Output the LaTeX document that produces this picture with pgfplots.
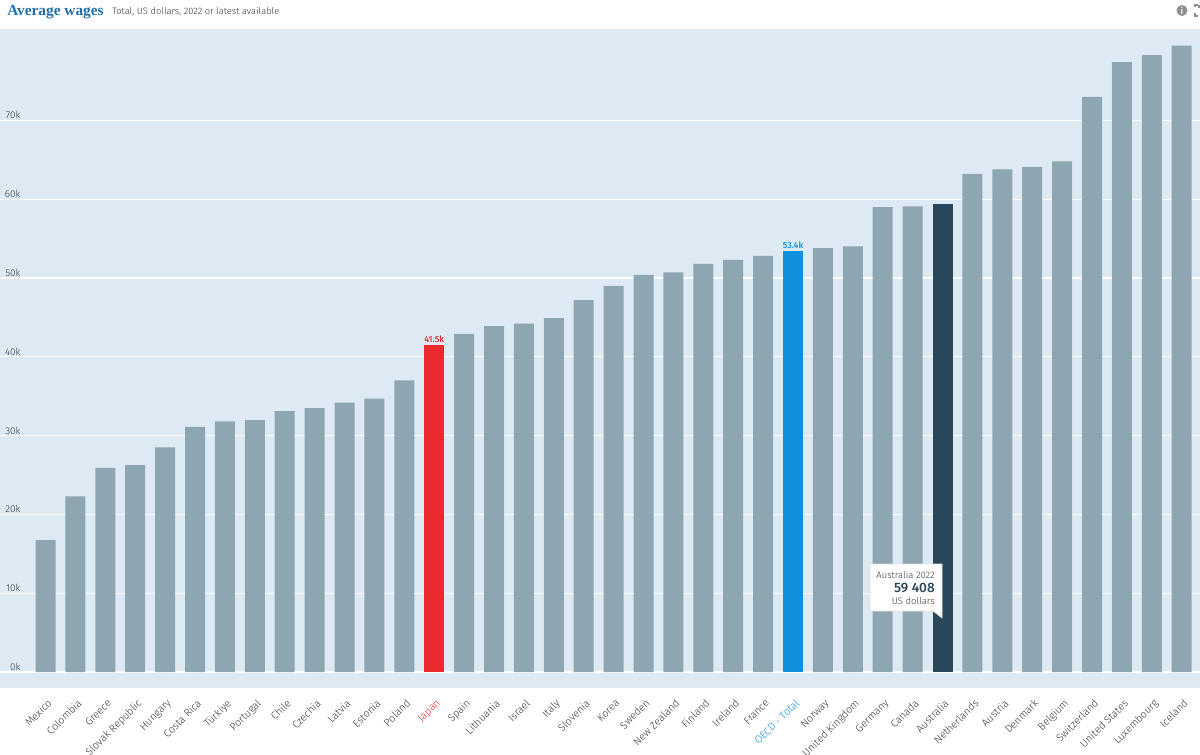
\documentclass[border=0pt]{standalone}
\usepackage{pgfplots}
\usepackage{fontspec}
\pgfplotsset{compat=1.18}
\setmainfont{Fira Sans Light}[BoldFont={Fira Sans Medium}]
\newfontfamily\titlefont{Liberation Serif}
\definecolor{plotbg}{HTML}{DEEAF3}
\definecolor{barg}{HTML}{8EA5B2}
\definecolor{barau}{HTML}{2A465B}
\definecolor{barjp}{HTML}{EA2A2F}
\definecolor{baroecd}{HTML}{1090DC}
\definecolor{titleblue}{HTML}{1F6FA8}
\definecolor{txt}{HTML}{33383E}
\definecolor{icon}{HTML}{8A8F94}
\begin{document}
\begin{tikzpicture}
\path[use as bounding box,fill=white] (0pt,0pt) rectangle (900pt,-566.25pt);
\begin{axis}[
  at={(0pt,-516pt)},anchor=south west,
  scale only axis,width=900pt,height=494.25pt,
  xmin=-1.522,xmax=38.611,
  ymin=-2030,ymax=81600,
  axis background/.style={fill=plotbg},
  axis line style={draw=none},
  major tick length=0pt,
  ymajorgrids,
  grid style={white,line width=0.9pt},
  ybar,bar width=15pt,bar shift=0pt,
  ytick={0,10000,20000,30000,40000,50000,60000,70000},
  yticklabels={0k,10k,20k,30k,40k,50k,60k,70k},
  scaled y ticks=false,
  yticklabel style={anchor=south east,xshift=16.5pt,yshift=-0.2pt,font=\fontsize{7.4pt}{8pt}\selectfont,text=txt,inner sep=1pt},
  xtick={0,...,38},
  xticklabels={Mexico,Colombia,Greece,Slovak Republic,Hungary,Costa Rica,Türkiye,Portugal,Chile,Czechia,Latvia,Estonia,Poland,\textcolor{barjp}{Japan},Spain,Lithuania,Israel,Italy,Slovenia,Korea,Sweden,New Zealand,Finland,Ireland,France,\textcolor{baroecd}{OECD - Total},Norway,United Kingdom,Germany,Canada,Australia,Netherlands,Austria,Denmark,Belgium,Switzerland,United States,Luxembourg,Iceland},
  xticklabel style={rotate=45,anchor=north east,font=\fontsize{7.9pt}{9pt}\selectfont,text=txt,inner sep=0pt,xshift=-4.7pt,yshift=-6.1pt},
  clip=false,
]
\addplot[fill=barg,draw=none] coordinates {
(0,16750)(1,22300)(2,25900)(3,26250)(4,28500)(5,31100)(6,31800)(7,31950)(8,33100)(9,33500)(10,34200)(11,34700)(12,37000)
(14,42900)(15,43900)(16,44200)(17,44900)(18,47200)(19,49000)(20,50400)(21,50700)(22,51800)(23,52300)(24,52800)
(26,53800)(27,54000)(28,59000)(29,59100)
(31,63200)(32,63800)(33,64100)(34,64800)(35,73000)(36,77400)(37,78300)(38,79500)};
\addplot[fill=barjp,draw=none,nodes near coords={41.5k},
  every node near coord/.append style={font=\fontsize{6.6pt}{7pt}\bfseries\selectfont,text=barjp,inner sep=1.5pt}] coordinates {(13,41500)};
\addplot[fill=baroecd,draw=none,nodes near coords={53.4k},
  every node near coord/.append style={font=\fontsize{6.6pt}{7pt}\bfseries\selectfont,text=baroecd,inner sep=1.5pt}] coordinates {(25,53400)};
\addplot[fill=barau,draw=none] coordinates {(30,59408)};
\end{axis}
\begin{scope}[x=0.75pt,y=-0.75pt]
% title
\node[anchor=base west,inner sep=0pt,text=titleblue,font=\titlefont\bfseries\fontsize{11.5pt}{12pt}\selectfont] at (7,15.5) {Average wages};
\node[anchor=base west,inner sep=0pt,text=txt,font=\fontsize{7pt}{8pt}\selectfont] at (112,14.5) {Total, US dollars, 2022 or latest available};
% tooltip
\fill[white,draw=black!12,line width=0.4pt] (870,564) -- (942,564) -- (942,618) -- (933,611) -- (870,611) -- cycle;
\node[anchor=base east,inner sep=0pt,text=txt,font=\fontsize{7.1pt}{8pt}\selectfont] at (935,578) {Australia 2022};
\node[anchor=base east,inner sep=0pt,text=barau,font=\fontsize{10.2pt}{11pt}\bfseries\selectfont] at (935,592) {59 408};
\node[anchor=base east,inner sep=0pt,text=txt,font=\fontsize{7.1pt}{8pt}\selectfont] at (935,604) {US dollars};
% icons
\fill[icon] (1182,10.5) circle (5.5);
\node[inner sep=0pt,text=white,font=\fontsize{7pt}{7pt}\bfseries\selectfont] at (1182,10.5) {i};
\draw[icon,line width=0.9pt] (1195,7) -- (1195,5) -- (1197.5,5) (1195,13) -- (1195,16) -- (1198,16) (1199,5.5) -- (1199,8);
\end{scope}
\end{tikzpicture}
\end{document}
